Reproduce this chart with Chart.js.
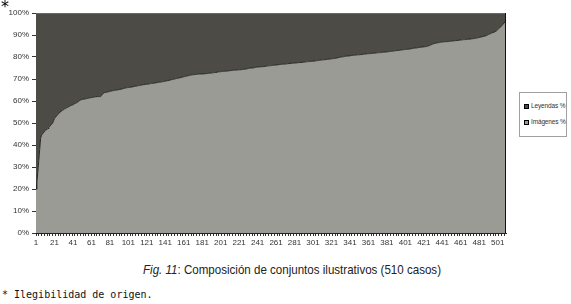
<!DOCTYPE html>
<html><head><meta charset="utf-8">
<script src="https://cdn.jsdelivr.net/npm/chart.js@4"></script>
<style>
html,body{margin:0;padding:0;background:#fff;width:571px;height:304px;overflow:hidden;position:relative;font-family:Arial,"Liberation Sans",sans-serif}
#wrap{position:absolute;left:0;top:0;width:571px;height:260px}
#star{position:absolute;left:1px;top:-3px;font:16px "DejaVu Sans",sans-serif;color:#000}
#legend{position:absolute;left:519px;top:92px;width:46px;height:43px;border:1px solid #a0a0a0;background:#fff;font:6.5px Arial,"Liberation Sans",sans-serif;color:#333}
#legend div{position:absolute;left:4px;white-space:nowrap;letter-spacing:-0.15px}
#legend span{display:inline-block;width:3px;height:3px;border:0.5px solid #000;margin-right:2px;vertical-align:middle}
#caption{position:absolute;top:262px;white-space:nowrap;font:13.5px "Liberation Sans",Arial,sans-serif;color:#222;transform-origin:0 0}
#note{position:absolute;left:2px;top:289px;font:10px "DejaVu Sans Mono",monospace;color:#111;white-space:pre}
</style></head>
<body>
<div id="wrap"><canvas id="c" width="571" height="260"></canvas></div>
<div id="star">*</div>
<div id="legend"><div style="top:9px"><span style="background:#4c4b46"></span>Leyendas %</div><div style="top:25px"><span style="background:#9b9b96"></span>Imágenes %</div></div>
<div id="caption"><i>Fig. 11</i>: Composición de conjuntos ilustrativos (510 casos)</div>
<div id="note">* Ilegibilidad de origen.</div>
<script>
// 510 cases, labels 1..510
const categories = Array.from({length: 510}, (_, i) => String(i + 1));
const yTicks = [0,10,20,30,40,50,60,70,80,90,100];
// Imágenes % (sorted ascending)
const imagenes = [
20,23,28,33,38,43,44.5,45,45.5,46,46.5,47,47,47.5,48,48.5,49,49.5,50,51,
52,52.5,53,53.5,54,54.5,55,55,55.5,56,56,56.5,56.5,57,57,57.3,57.5,57.8,58,58.2,
58.4,58.6,58.8,59,59.2,59.5,59.7,60,60.5,60.6,60.7,60.8,60.9,61,61,61.1,61.2,61.3,61.4,61.5,
61.5,61.6,61.7,61.8,61.9,62,62,62,62,62,62,62.5,63,63.5,63.8,63.8,64,64,64.2,64.3,
64.4,64.5,64.6,64.7,64.7,64.8,64.9,65,65,65.1,65.2,65.3,65.4,65.5,65.6,65.7,65.8,65.9,66,66.1,
66.1,66.2,66.2,66.3,66.4,66.5,66.6,66.7,66.7,66.8,66.9,67,67,67.1,67.2,67.3,67.4,67.5,67.5,67.6,
67.6,67.7,67.7,67.8,67.9,68,68,68,68.1,68.2,68.3,68.4,68.5,68.5,68.6,68.6,68.7,68.8,68.8,68.9,
69,69.1,69.2,69.3,69.4,69.5,69.6,69.7,69.8,69.9,70,70.1,70.2,70.3,70.4,70.5,70.6,70.7,70.8,70.9,
71,71.1,71.2,71.3,71.4,71.5,71.6,71.8,71.8,71.9,72,72,72,72.1,72.1,72.2,72.2,72.3,72.3,72.3,
72.3,72.3,72.4,72.4,72.4,72.5,72.5,72.6,72.6,72.7,72.7,72.8,72.8,72.9,73,73,73.1,73.2,73.3,73.3,
73.3,73.4,73.4,73.5,73.5,73.5,73.6,73.6,73.7,73.7,73.8,73.8,73.9,73.9,74,74,74,74.1,74.1,74.2,
74.2,74.2,74.3,74.3,74.4,74.4,74.4,74.5,74.6,74.7,74.8,74.9,75,75,75,75.1,75.1,75.2,75.3,75.4,
75.4,75.5,75.5,75.5,75.6,75.6,75.6,75.7,75.7,75.8,75.9,76,76,76,76.1,76.1,76.2,76.2,76.3,76.3,
76.4,76.4,76.5,76.5,76.6,76.6,76.7,76.7,76.7,76.8,76.8,76.9,76.9,77,77,77,77.1,77.1,77.2,77.2,
77.2,77.3,77.3,77.4,77.4,77.5,77.5,77.5,77.6,77.6,77.7,77.7,77.8,77.8,77.9,77.9,78,78,78,78.1,
78.1,78.2,78.2,78.3,78.3,78.4,78.4,78.5,78.6,78.6,78.7,78.7,78.8,78.8,78.9,78.9,79,79,79,79.1,
79.2,79.2,79.3,79.3,79.4,79.5,79.6,79.7,79.8,79.9,80,80,80.1,80.1,80.2,80.3,80.4,80.4,80.5,80.5,
80.6,80.6,80.7,80.7,80.8,80.8,80.9,80.9,81,81,81,81.1,81.1,81.2,81.2,81.3,81.3,81.4,81.4,81.5,
81.5,81.5,81.6,81.6,81.7,81.7,81.7,81.8,81.8,81.9,81.9,82,82,82,82.1,82.1,82.2,82.2,82.3,82.3,
82.3,82.4,82.4,82.5,82.5,82.6,82.6,82.7,82.8,82.8,82.9,83,83,83,83.1,83.2,83.2,83.3,83.3,83.4,
83.4,83.5,83.5,83.6,83.6,83.7,83.8,83.8,83.9,84,84,84.1,84.1,84.2,84.3,84.3,84.4,84.5,84.5,84.6,
84.6,84.7,84.7,84.8,84.9,85,85.2,85.4,85.6,85.8,86,86.1,86.2,86.3,86.4,86.5,86.5,86.6,86.7,86.8,
86.8,86.9,86.9,87,87,87,87,87.1,87.1,87.2,87.2,87.3,87.3,87.4,87.4,87.5,87.5,87.6,87.6,87.7,
87.7,87.8,87.8,87.9,87.9,88,88,88,88.1,88.1,88.2,88.2,88.3,88.3,88.4,88.4,88.5,88.6,88.7,88.8,
88.9,89,89.1,89.2,89.3,89.4,89.5,89.6,89.8,90,90.2,90.4,90.6,90.8,91,91.2,91.4,91.5,91.7,92,
92.4,92.8,93.2,93.5,94,94.5,95,95.5,96,96.5
];
// Leyendas % = remainder of each case (100% stacked)
const leyendas = imagenes.map(v => +(100 - v).toFixed(1));

// fit caption to the narrow width seen in the reference
(function () {
  const cap = document.getElementById('caption');
  const w = cap.getBoundingClientRect().width;
  const target = 298, centre = 292;
  const s = target / w;
  cap.style.transform = 'scaleX(' + s + ')';
  cap.style.left = (centre - target / 2) + 'px';
})();

const frame = {
  id: 'frame',
  afterDatasetsDraw(chart) {
    const {ctx, chartArea: a} = chart;
    ctx.save();
    ctx.strokeStyle = '#6a6a66';
    ctx.lineWidth = 1;
    ctx.beginPath(); ctx.moveTo(a.left, a.top + 0.5); ctx.lineTo(a.right, a.top + 0.5); ctx.stroke();
    ctx.strokeStyle = '#111';
    ctx.beginPath(); ctx.moveTo(a.right - 0.5, a.top); ctx.lineTo(a.right - 0.5, a.bottom); ctx.stroke();
    ctx.restore();
  }
};

new Chart(document.getElementById('c'), {
  type: 'line',
  data: {
    labels: categories,
    datasets: [
      {label: 'Imágenes %', data: imagenes, fill: 'origin', backgroundColor: '#9b9b96', borderColor: '#262624', borderWidth: 1, pointRadius: 0, tension: 0},
      {label: 'Leyendas %', data: leyendas, fill: '-1', backgroundColor: '#4c4b46', borderColor: '#4c4b46', borderWidth: 0, pointRadius: 0, tension: 0}
    ]
  },
  options: {
    responsive: false,
    animation: false,
    events: [],
    layout: {padding: {left: 0, top: 13, right: 65, bottom: 0}},
    plugins: {legend: {display: false}, tooltip: {enabled: false}},
    scales: {
      x: {
        stacked: true,
        offset: false,
        afterFit(s) { s.height = 27; },
        border: {display: true, color: '#222', width: 1},
        grid: {drawOnChartArea: false, tickLength: 3, color: (c) => (c.index % 3 === 0 ? '#333' : 'rgba(0,0,0,0)')},
        ticks: {autoSkip: false, maxRotation: 0, minRotation: 0, padding: 2, color: '#333', font: {size: 8, family: 'Arial, "Liberation Sans", sans-serif'},
          callback: (v, i) => (i % 20 === 0 ? categories[i] : '')}
      },
      y: {
        stacked: true,
        min: 0, max: 100,
        afterFit(s) { s.width = 36; },
        afterBuildTicks(s) { s.ticks = yTicks.map(v => ({value: v})); },
        border: {display: true, color: '#111', width: 1},
        grid: {drawOnChartArea: false, tickLength: 4, color: '#333'},
        ticks: {padding: 3, color: '#333', font: {size: 8, family: 'Arial, "Liberation Sans", sans-serif'}, callback: v => v + '%'}
      }
    }
  },
  plugins: [frame]
});
</script>
</body></html>
